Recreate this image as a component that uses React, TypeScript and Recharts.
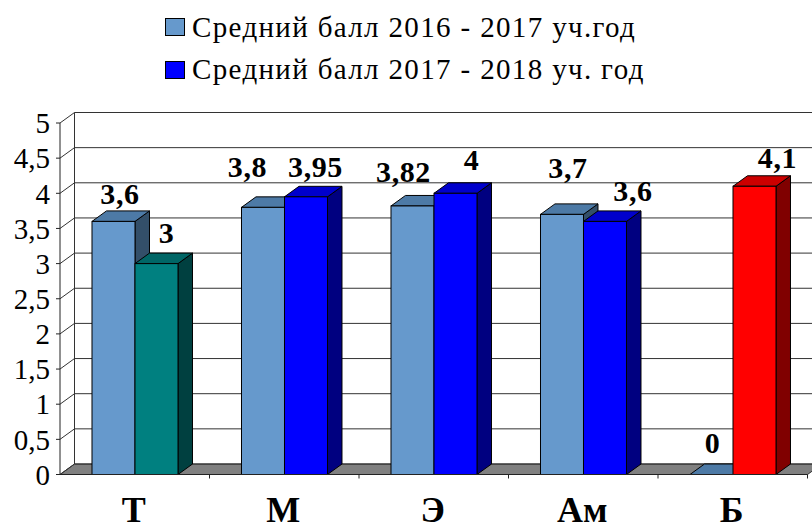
import { BarChart, Bar, XAxis, YAxis, CartesianGrid, Legend, LabelList, Cell } from "recharts";

const categories = ["Т", "М", "Э", "Ам", "Б"];
const scores2016 = [3.6, 3.8, 3.82, 3.7, 0];
const scores2017 = [3, 3.95, 4, 3.6, 4.1];
const colors2017 = ["#008080", "#0000ff", "#0000ff", "#0000ff", "#ff0000"];
const yTicks = [0, 0.5, 1, 1.5, 2, 2.5, 3, 3.5, 4, 4.5, 5];
const seriesNames = ["Средний балл 2016 - 2017 уч.год", "Средний балл 2017 - 2018 уч. год"];

const data = categories.map((name, i) => ({ name, a: scores2016[i], b: scores2017[i] }));

// labels in the original were dragged by hand, so each one has its own nudge
const nudgeA = [[6.5, -17], [-15.5, -30], [-9, -23.5], [6, -36.5], [1, -21.5]];
const nudgeB = [[10, -21], [9.5, -20], [16, -23], [28, -20], [23, -18]];

const DX = 14.5;
const DY = 10.5;
const SERIF = "'Liberation Serif', serif";
const LINE = "#222";

const shades: Record<string, [string, string]> = {
  "#6699cc": ["#4d7aa6", "#334f69"],
  "#008080": ["#006666", "#004040"],
  "#0000ff": ["#0000cc", "#000080"],
  "#ff0000": ["#cc0000", "#800000"],
};

const pts = (p: number[][]) => p.map(q => q.join(",")).join(" ");

function Box3D({ x, y, width, height, fill }: any) {
  const [top, side] = shades[fill] ?? [fill, fill];
  const r = x + width;
  const b = y + height;
  return (
    <g stroke="#000" strokeWidth={1}>
      <polygon fill={side} points={pts([[r, y], [r + DX, y - DY], [r + DX, b - DY], [r, b]])} />
      <polygon fill={top} points={pts([[x, y], [x + DX, y - DY], [r + DX, y - DY], [r, y]])} />
      {height > 0 && <rect x={x} y={y} width={width} height={height} fill={fill} />}
    </g>
  );
}

function gridRow(props: any) {
  const { x1, x2, y1, index, y, height } = props;
  const isFloor = Math.abs(y1 - (y + height)) < 1;
  return (
    <g key={index} stroke="#333" strokeWidth={1}>
      {isFloor && (
        <>
          <line x1={x1 + DX} x2={x1 + DX} y1={y - DY} y2={y1 - DY} />
          <polygon fill="#808080" points={pts([[x1, y1], [x1 + DX, y1 - DY], [x2 + DX, y1 - DY], [x2, y1]])} />
        </>
      )}
      <line x1={x1} y1={y1} x2={x1 + DX} y2={y1 - DY} />
      <line x1={x1 + DX} y1={y1 - DY} x2={x2 + DX} y2={y1 - DY} />
    </g>
  );
}

const makeLabel = (nudge: number[][]) => (props: any) => {
  const { x, y, width, value, index } = props;
  return (
    <text
      x={x + width / 2 + nudge[index][0]}
      y={y + nudge[index][1]}
      textAnchor="middle"
      fontFamily={SERIF}
      fontSize={30}
      fontWeight="bold"
      letterSpacing={0.6}
      fill="#000"
    >
      {String(value).replace(".", ",")}
    </text>
  );
};

function CategoryTick({ x, y, payload }: any) {
  const half = payload.offset ?? 74.75;
  return (
    <g>
      <line x1={x + half} x2={x + half} y1={y - 8} y2={y - 4} stroke={LINE} />
      <text x={x - 1} y={522} textAnchor="middle" fontFamily={SERIF} fontSize={36} fontWeight="bold" fill="#000">
        {payload.value}
      </text>
    </g>
  );
}

function LegendBox({ payload }: any) {
  return (
    <div style={{ position: "relative", width: 812, height: 100 }}>
      {(payload ?? []).map((item: any, i: number) => (
        <div key={item.value}>
          <div
            style={{
              position: "absolute",
              left: 165,
              top: 18 + i * 43,
              width: 18,
              height: 16,
              background: item.color,
              border: "1px solid #000",
            }}
          />
          <div
            style={{
              position: "absolute",
              left: 192,
              top: 10 + i * 42,
              fontFamily: SERIF,
              fontSize: 29,
              letterSpacing: 1.35,
              lineHeight: "34px",
              whiteSpace: "nowrap",
              color: "#000",
            }}
          >
            {item.value}
          </div>
        </div>
      ))}
    </div>
  );
}

export default function App() {
  return (
    <div style={{ position: "absolute", left: 0, top: 0, width: 812, height: 524, overflow: "hidden", background: "#fff" }}>
      <BarChart
        width={830}
        height={524}
        data={data}
        margin={{ top: 123, right: 22.5, left: 0, bottom: 0 }}
        barCategoryGap="21.4%"
        barGap={0}
      >
        <CartesianGrid vertical={false} horizontal={gridRow} />
        <XAxis
          dataKey="name"
          height={49.5}
          stroke={LINE}
          tickLine={false}
          tick={<CategoryTick />}
          interval={0}
        />
        <YAxis
          width={60}
          domain={[0, 5]}
          ticks={yTicks}
          interval={0}
          stroke={LINE}
          tickSize={4}
          tickMargin={6}
          tickFormatter={(v: number) => String(v).replace(".", ",")}
          tick={{ fontFamily: SERIF, fontSize: 29, fill: "#000" }}
        />
        <Legend
          layout="horizontal"
          verticalAlign="middle"
          align="center"
          content={<LegendBox />}
          wrapperStyle={{ position: "absolute", left: 0, top: 0, width: 812, height: 100 }}
        />
        <Bar dataKey="a" name={seriesNames[0]} fill="#6699cc" shape={<Box3D />} isAnimationActive={false}>
          <LabelList dataKey="a" content={makeLabel(nudgeA)} />
        </Bar>
        <Bar dataKey="b" name={seriesNames[1]} fill="#0000ff" shape={<Box3D />} isAnimationActive={false}>
          {colors2017.map((c, i) => (
            <Cell key={i} fill={c} />
          ))}
          <LabelList dataKey="b" content={makeLabel(nudgeB)} />
        </Bar>
      </BarChart>
    </div>
  );
}
